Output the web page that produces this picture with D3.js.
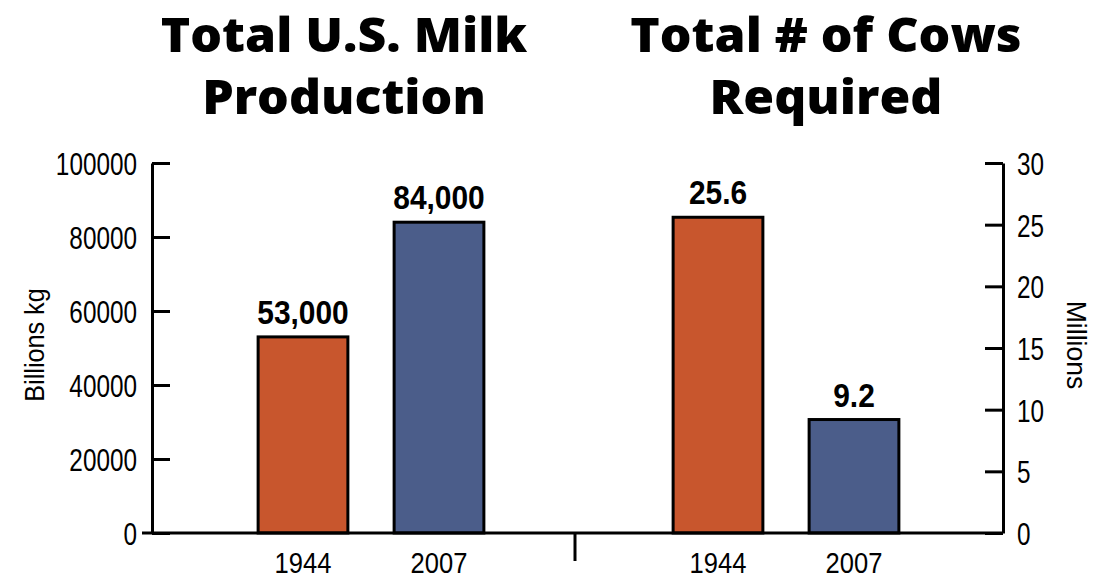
<!DOCTYPE html>
<html>
<head>
<meta charset="utf-8">
<script src="https://cdn.jsdelivr.net/npm/d3@7"></script>
<style>
  body { margin: 0; background: #fff; }
  text { fill: #000; }
</style>
</head>
<body>
<svg id="chart" width="1101" height="580"></svg>
<script>
// data
const years = ["1944", "2007"];
const milkValues = [53000, 84000];
const milkLabels = ["53,000", "84,000"];
const cowValues = [25.6, 9.2];
const cowLabels = ["25.6", "9.2"];
const milkTicks = [0, 20000, 40000, 60000, 80000, 100000];
const cowTicks = [0, 5, 10, 15, 20, 25, 30];
const colors = ["#C8562D", "#4B5D8A"];

const bodyFont = "'Liberation Sans', Arial, sans-serif";
const titleFont = "'Open Sans', 'Liberation Sans', sans-serif";

// squeeze text horizontally to fake a condensed face
function condense(sel, k) {
  sel.each(function () {
    const w = this.getComputedTextLength();
    d3.select(this).attr("textLength", w * k).attr("lengthAdjust", "spacingAndGlyphs");
  });
}

const svg = d3.select("#chart");
const plotTop = 163, plotBottom = 533;
const leftX = 152, rightX = 1003;

const yMilk = d3.scaleLinear().domain([0, 100000]).range([plotBottom, plotTop]);
const yCows = d3.scaleLinear().domain([0, 30]).range([plotBottom, plotTop]);

const xMilk = d3.scaleBand().domain(years).range([235, 507]).paddingInner(0.34).paddingOuter(0.17);
const xCows = d3.scaleBand().domain(years).range([650, 922]).paddingInner(0.34).paddingOuter(0.17);

// titles
const titles = [
  { x: 344, lines: ["Total U.S. Milk", "Production"] },
  { x: 826, lines: ["Total # of Cows", "Required"] }
];
titles.forEach(t => {
  t.lines.forEach((line, i) => {
    svg.append("text")
      .attr("x", t.x)
      .attr("y", 52 + i * 62)
      .attr("text-anchor", "middle")
      .style("font-family", titleFont)
      .style("font-weight", "800")
      .style("font-size", "48px")
      .text(line)
      .call(condense, 1.04);
  });
});

// bars
function drawBars(x, y, values, labels) {
  const g = svg.append("g");
  g.selectAll("rect")
    .data(values)
    .enter()
    .append("rect")
    .attr("x", (d, i) => x(years[i]))
    .attr("y", d => y(d))
    .attr("width", x.bandwidth())
    .attr("height", d => plotBottom - y(d))
    .attr("fill", (d, i) => colors[i])
    .attr("stroke", "#000")
    .attr("stroke-width", 3);

  g.selectAll("text.val")
    .data(values)
    .enter()
    .append("text")
    .attr("class", "val")
    .attr("x", (d, i) => x(years[i]) + x.bandwidth() / 2)
    .attr("y", d => y(d) - 13)
    .attr("text-anchor", "middle")
    .style("font-family", bodyFont)
    .style("font-weight", "bold")
    .style("font-size", "34px")
    .text((d, i) => labels[i])
    .call(condense, 0.88);

  g.selectAll("text.cat")
    .data(years)
    .enter()
    .append("text")
    .attr("class", "cat")
    .attr("x", d => x(d) + x.bandwidth() / 2)
    .attr("y", 573)
    .attr("text-anchor", "middle")
    .style("font-family", bodyFont)
    .style("font-size", "29px")
    .text(d => d)
    .call(condense, 0.88);
}
drawBars(xMilk, yMilk, milkValues, milkLabels);
drawBars(xCows, yCows, cowValues, cowLabels);

// left axis
const leftAxis = svg.append("g")
  .attr("transform", `translate(${leftX},0)`)
  .call(d3.axisRight(yMilk).tickValues(milkTicks).tickSize(18).tickSizeOuter(0).tickFormat(d3.format("d")));
leftAxis.select(".domain").attr("stroke-width", 3);
leftAxis.selectAll(".tick line").attr("stroke-width", 3);
leftAxis.selectAll(".tick text")
  .attr("x", -15)
  .attr("dy", "0.36em")
  .attr("text-anchor", "end")
  .style("font-family", bodyFont)
  .style("font-size", "32px")
  .call(condense, 0.76);

// right axis
const rightAxis = svg.append("g")
  .attr("transform", `translate(${rightX},0)`)
  .call(d3.axisLeft(yCows).tickValues(cowTicks).tickSize(18).tickSizeOuter(0));
rightAxis.select(".domain").attr("stroke-width", 3);
rightAxis.selectAll(".tick line").attr("stroke-width", 3);
rightAxis.selectAll(".tick text")
  .attr("x", 14)
  .attr("dy", "0.36em")
  .attr("text-anchor", "start")
  .style("font-family", bodyFont)
  .style("font-size", "32px")
  .call(condense, 0.76);

// baseline
svg.append("line")
  .attr("x1", 142).attr("x2", rightX)
  .attr("y1", plotBottom).attr("y2", plotBottom)
  .attr("stroke", "#000").attr("stroke-width", 3);

// separator tick between groups
svg.append("line")
  .attr("x1", 575).attr("x2", 575)
  .attr("y1", plotBottom).attr("y2", 561)
  .attr("stroke", "#000").attr("stroke-width", 3);

// axis titles
svg.append("text")
  .attr("transform", `translate(44,345) rotate(-90)`)
  .attr("text-anchor", "middle")
  .style("font-family", bodyFont)
  .style("font-size", "28px")
  .text("Billions kg")
  .call(condense, 0.9);

svg.append("text")
  .attr("transform", `translate(1067,345) rotate(90)`)
  .attr("text-anchor", "middle")
  .style("font-family", bodyFont)
  .style("font-size", "28px")
  .text("Millions")
  .call(condense, 0.95);
</script>
</body>
</html>
